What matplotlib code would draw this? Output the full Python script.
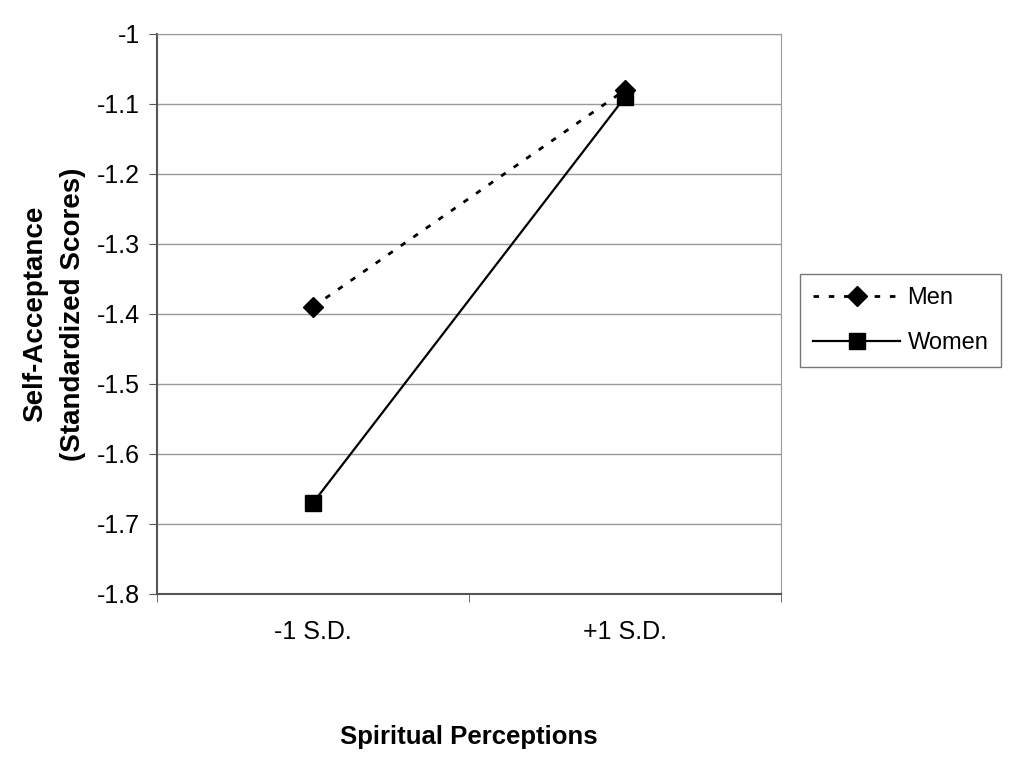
import matplotlib.pyplot as plt

plt.rcParams['font.family'] = ['Liberation Sans', 'DejaVu Sans']

categories = ['-1 S.D.', '+1 S.D.']
men = [-1.39, -1.08]
women = [-1.67, -1.09]
y_ticks = [-1.8, -1.7, -1.6, -1.5, -1.4, -1.3, -1.2, -1.1, -1.0]
y_labels = ['-1.8', '-1.7', '-1.6', '-1.5', '-1.4', '-1.3', '-1.2', '-1.1', '-1']

fig = plt.figure(figsize=(10.12, 7.58), dpi=100)
ax = fig.add_axes([0.155, 0.2164, 0.617, 0.7389])

x = list(range(len(categories)))
ax.plot(x, men, color='black', linestyle=(0, (2, 3.5)), linewidth=2,
        marker='D', markersize=10, label='Men', zorder=3)
ax.plot(x, women, color='black', linestyle='-', linewidth=1.6,
        marker='s', markersize=11, label='Women', zorder=3)

ax.set_xlim(-0.5, 1.5)
ax.set_ylim(-1.8, -1.0)
ax.set_yticks(y_ticks)
ax.set_yticklabels(y_labels)
ax.set_xticks(x)
ax.set_xticklabels(categories)
ax.set_xticks([-0.5, 0.5, 1.5], minor=True)
ax.tick_params(axis='x', which='major', length=0, pad=19, labelsize=18)
ax.tick_params(axis='x', which='minor', length=6, direction='out', color='#555555')
ax.tick_params(axis='y', length=6, direction='out', color='#555555', labelsize=18, pad=6)

ax.grid(axis='y', color='#999999', linewidth=1)
ax.set_axisbelow(True)
for side in ['top', 'right']:
    ax.spines[side].set_color('#999999')
for side in ['left', 'bottom']:
    ax.spines[side].set_color('#555555')
    ax.spines[side].set_linewidth(1.5)

ax.set_xlabel('Spiritual Perceptions', fontsize=18.5, fontweight='bold', labelpad=58)
ax.set_ylabel('Self-Acceptance\n(Standardized Scores)', fontsize=20, fontweight='bold',
              labelpad=8, linespacing=1.6)

leg = ax.legend(loc='center left', bbox_to_anchor=(1.03, 0.488), fontsize=17,
                frameon=True, fancybox=False, edgecolor='#555555',
                handlelength=3.7, handletextpad=0.3, borderpad=0.55, labelspacing=0.95,
                borderaxespad=0)
leg.get_frame().set_linewidth(1)

fig.savefig('out.png', dpi=100)
